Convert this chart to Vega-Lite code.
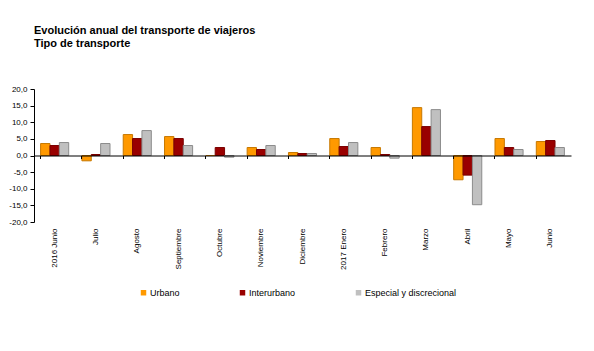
{
  "$schema": "https://vega.github.io/schema/vega-lite/v6.json",
  "autosize": {"type": "none"},
  "width": 537,
  "height": 133,
  "padding": {"left": 34, "top": 89, "right": 23, "bottom": 129},
  "background": "white",
  "config": {
    "font": "Liberation Sans",
    "view": {"stroke": null}
  },
  "title": {
    "text": ["Evolución anual del transporte de viajeros", "Tipo de transporte"],
    "anchor": "start",
    "frame": "group",
    "fontSize": 11,
    "fontWeight": "bold",
    "lineHeight": 13,
    "color": "#000000",
    "offset": 36
  },
  "data": {
    "values": [
      {"mes": "2016 Junio", "tipo": "Urbano", "valor": 3.6},
      {"mes": "2016 Junio", "tipo": "Interurbano", "valor": 3.0},
      {"mes": "2016 Junio", "tipo": "Especial y discrecional", "valor": 3.9},
      {"mes": "Julio", "tipo": "Urbano", "valor": -1.6},
      {"mes": "Julio", "tipo": "Interurbano", "valor": 0.3},
      {"mes": "Julio", "tipo": "Especial y discrecional", "valor": 3.6},
      {"mes": "Agosto", "tipo": "Urbano", "valor": 6.3},
      {"mes": "Agosto", "tipo": "Interurbano", "valor": 5.1},
      {"mes": "Agosto", "tipo": "Especial y discrecional", "valor": 7.5},
      {"mes": "Septiembre", "tipo": "Urbano", "valor": 5.7},
      {"mes": "Septiembre", "tipo": "Interurbano", "valor": 5.1},
      {"mes": "Septiembre", "tipo": "Especial y discrecional", "valor": 3.0},
      {"mes": "Octubre", "tipo": "Urbano", "valor": 0.0},
      {"mes": "Octubre", "tipo": "Interurbano", "valor": 2.4},
      {"mes": "Octubre", "tipo": "Especial y discrecional", "valor": -0.5},
      {"mes": "Noviembre", "tipo": "Urbano", "valor": 2.4},
      {"mes": "Noviembre", "tipo": "Interurbano", "valor": 1.8},
      {"mes": "Noviembre", "tipo": "Especial y discrecional", "valor": 3.0},
      {"mes": "Diciembre", "tipo": "Urbano", "valor": 0.9},
      {"mes": "Diciembre", "tipo": "Interurbano", "valor": 0.6},
      {"mes": "Diciembre", "tipo": "Especial y discrecional", "valor": 0.6},
      {"mes": "2017 Enero", "tipo": "Urbano", "valor": 5.1},
      {"mes": "2017 Enero", "tipo": "Interurbano", "valor": 2.7},
      {"mes": "2017 Enero", "tipo": "Especial y discrecional", "valor": 3.9},
      {"mes": "Febrero", "tipo": "Urbano", "valor": 2.4},
      {"mes": "Febrero", "tipo": "Interurbano", "valor": 0.3},
      {"mes": "Febrero", "tipo": "Especial y discrecional", "valor": -0.8},
      {"mes": "Marzo", "tipo": "Urbano", "valor": 14.4},
      {"mes": "Marzo", "tipo": "Interurbano", "valor": 8.7},
      {"mes": "Marzo", "tipo": "Especial y discrecional", "valor": 13.8},
      {"mes": "Abril", "tipo": "Urbano", "valor": -7.3},
      {"mes": "Abril", "tipo": "Interurbano", "valor": -5.9},
      {"mes": "Abril", "tipo": "Especial y discrecional", "valor": -14.8},
      {"mes": "Mayo", "tipo": "Urbano", "valor": 5.1},
      {"mes": "Mayo", "tipo": "Interurbano", "valor": 2.4},
      {"mes": "Mayo", "tipo": "Especial y discrecional", "valor": 1.8},
      {"mes": "Junio", "tipo": "Urbano", "valor": 4.2},
      {"mes": "Junio", "tipo": "Interurbano", "valor": 4.5},
      {"mes": "Junio", "tipo": "Especial y discrecional", "valor": 2.4}
    ]
  },
  "layer": [
    {
      "mark": {"type": "bar", "strokeWidth": 1},
      "encoding": {
        "x": {
          "field": "mes", "type": "nominal", "sort": null,
          "scale": {"paddingInner": 0.32, "paddingOuter": 0.16},
          "axis": {
            "title": null, "orient": "bottom", "domain": false, "ticks": false,
            "labelAngle": -90, "labelAlign": "right", "labelBaseline": "middle",
            "labelPadding": 6, "labelFontSize": 8, "labelColor": "#000000", "labelFontWeight": 500
          }
        },
        "xOffset": {"field": "tipo", "type": "nominal", "sort": ["Urbano", "Interurbano", "Especial y discrecional"], "scale": {"paddingInner": 0, "paddingOuter": 0}},
        "y": {
          "field": "valor", "type": "quantitative",
          "scale": {"domain": [-20, 20], "nice": false},
          "axis": {
            "title": null, "values": [-20, -15, -10, -5, 0, 5, 10, 15, 20], "grid": false,
            "labelOverlap": false, "labelBound": false, "labelFlush": false,
            "domainColor": "#000000", "tickColor": "#000000", "tickSize": 4,
            "labelFontSize": 8, "labelColor": "#000000", "labelPadding": 3,
            "labelExpr": "(datum.value < 0 ? '-' : '') + replace(format(abs(datum.value), '.1f'), '.', ',')"
          }
        },
        "color": {
          "field": "tipo", "type": "nominal",
          "scale": {"domain": ["Urbano", "Interurbano", "Especial y discrecional"], "range": ["#FF9900", "#990000", "#C0C0C0"]},
          "legend": {
            "title": null, "orient": "none", "legendX": 105, "legendY": 199, "direction": "horizontal",
            "symbolType": "square", "symbolSize": 30, "labelFontSize": 9,
            "labelColor": "#000000", "columnPadding": 58, "labelOffset": 2,
            "symbolStrokeWidth": 0
          }
        },
        "stroke": {
          "field": "tipo", "type": "nominal",
          "scale": {"domain": ["Urbano", "Interurbano", "Especial y discrecional"], "range": ["#C77800", "#7A0000", "#8C8C8C"]},
          "legend": null
        }
      }
    },
    {
      "mark": {"type": "point", "opacity": 0},
      "encoding": {
        "x": {
          "field": "mes", "type": "nominal", "sort": null,
          "axis": {
            "title": null, "orient": "bottom", "offset": -66.5, "labels": false,
            "domain": true, "domainColor": "#000000", "domainWidth": 1.2,
            "ticks": true, "tickColor": "#000000", "tickSize": 3, "bandPosition": 0,
            "zindex": 1
          }
        }
      }
    }
  ],
  "resolve": {"axis": {"x": "independent"}}
}
